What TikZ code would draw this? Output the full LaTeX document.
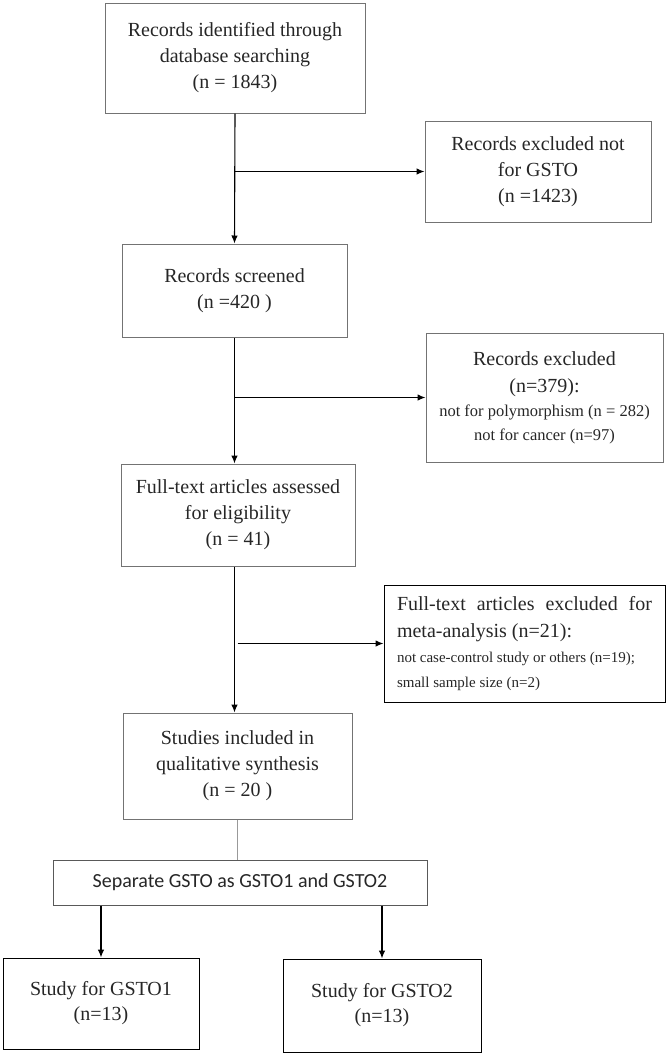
\documentclass[tikz,border=0pt]{standalone}
\usepackage{fontspec}
\setmainfont{Liberation Serif}
\newfontfamily\calib{Carlito}
\usetikzlibrary{arrows.meta}

\begin{document}
\begin{tikzpicture}[x=1pt,y=-1pt,>={Latex[length=8pt,width=6.5pt]},font=\fontsize{20}{26}\selectfont]
        \tikzstyle{box}=[draw=black!55, line width=1pt, inner sep=0pt, align=flush center, text=black!85]
        \tikzstyle{flow}=[->, line width=1.1pt]
        \useasboundingbox (0,0) rectangle (669,1055);
        \node[box, minimum width=260pt, minimum height=110pt] (ident) at (235,58) {Records identified through\\ database searching\\ (n = 1843)};
        \node[box, minimum width=226pt, minimum height=101pt] (notgsto) at (538,171.5) {Records excluded not\\ for GSTO\\ (n =1423)};
        \node[box, minimum width=225pt, minimum height=93pt] (screened) at (234.5,290.5) {Records screened\\ (n =420 )};
        \node[box, minimum width=237pt, minimum height=129pt, text width=232pt] (nopoly) at (544.5,397.5)
             {{\fontsize{20}{27}\selectfont Records excluded\\ (n=379):\par}{\fontsize{16.5}{24}\selectfont not for polymorphism (n = 282)\\ not for cancer (n=97)\par}};
        \node[box, minimum width=234pt, minimum height=102pt] (fulltext) at (238,515) {Full-text articles assessed\\ for eligibility\\ (n = 41)};
        \node[box, draw=black, minimum width=281pt, minimum height=117pt, text width=255pt, align=flush left] (nometa) at (524.5,643.5)
             {{\fontsize{20}{27}\selectfont \hbox to 255pt{Full-text\hfill articles\hfill excluded\hfill for}\\ meta-analysis (n=21):\par}{\fontsize{15}{25}\selectfont \mbox{not case-control study or others (n=19);}\\ small sample size (n=2)\par}};
        \node[box, minimum width=229pt, minimum height=106pt] (studies) at (237.5,766) {Studies included in\\ qualitative synthesis\\ (n = 20 )};
        \node[box, draw=black!65, minimum width=374pt, minimum height=45pt, font=\calib\fontsize{20}{24}\selectfont] (separate) at (240,882.5) {Separate GSTO as GSTO1 and GSTO2};
        \node[box, draw=black, minimum width=196pt, minimum height=91pt, font=\fontsize{20}{25}\selectfont] (gstoone) at (101,1003.5) {Study for GSTO1\\ (n=13)};
        \node[box, draw=black, minimum width=198pt, minimum height=93pt, font=\fontsize{20}{25}\selectfont] (gstotwo) at (382,1005.5) {Study for GSTO2\\ (n=13)};
        % main column
        \draw[flow] (ident.south) -- (screened.north);
        \draw[flow] (screened.south) -- (screened.south |- fulltext.north);
        \draw[flow] (fulltext.south -| screened.south) -- (studies.north -| screened.south);
        % exclusions
        \draw[flow] (ident.south |- notgsto.west) -- (notgsto.west);
        \draw[flow] (screened.south |- nopoly.west) -- (nopoly.west);
        \draw[flow] ([xshift=3pt]screened.south |- nometa.west) -- (nometa.west);
        % split
        \draw[line width=0.6pt, draw=black!40] (studies.south) -- (studies.south |- separate.north);
        \draw[flow] (separate.south -| gstoone.north) -- (gstoone.north);
        \draw[flow] (separate.south -| gstotwo.north) -- (gstotwo.north);
\end{tikzpicture}
\end{document}
